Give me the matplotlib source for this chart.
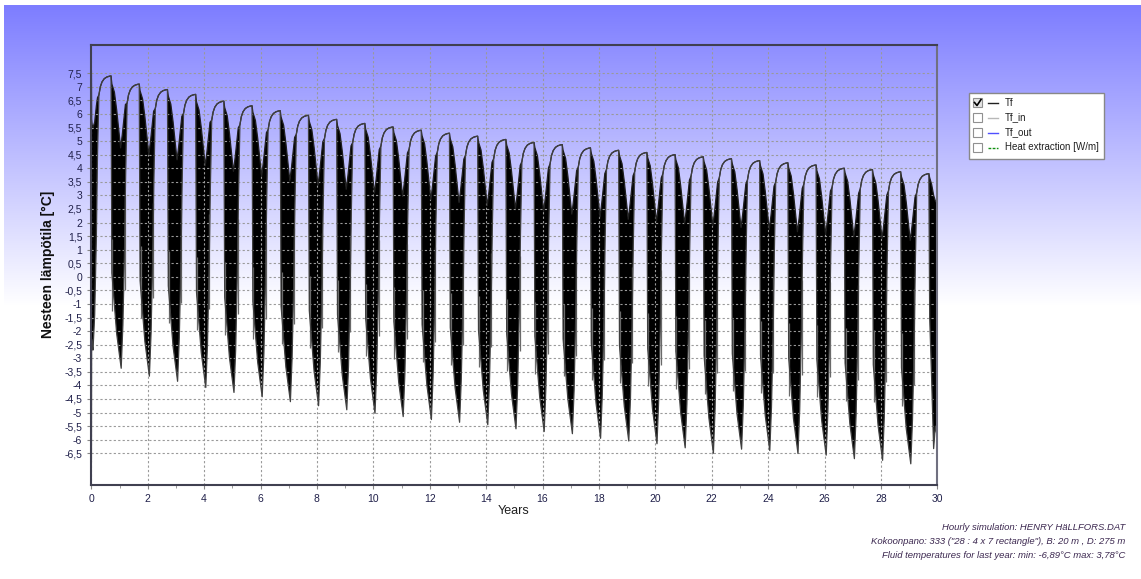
import numpy as np
import matplotlib.pyplot as plt
from matplotlib.ticker import FixedLocator, MultipleLocator, FuncFormatter
from matplotlib.patches import Rectangle

plt.rcParams['font.family'] = ['Liberation Sans', 'DejaVu Sans']

# summer peak of each year 0..29 (around t = k + 0.70)
peaks = [7.40, 7.10, 6.90, 6.72, 6.47, 6.30, 6.12, 5.95, 5.80, 5.65,
         5.52, 5.40, 5.29, 5.18, 5.06, 4.95, 4.87, 4.75, 4.66, 4.58,
         4.50, 4.42, 4.35, 4.28, 4.20, 4.12, 4.00, 3.95, 3.87, 3.80]
# winter minimum of years 1..29 (around t = k + 0.06)
troughs = [-3.37, -3.66, -3.85, -4.08, -4.26, -4.42, -4.60, -4.75, -4.90,
           -5.03, -5.15, -5.26, -5.36, -5.45, -5.60, -5.70, -5.78, -5.95,
           -6.05, -6.15, -6.30, -6.50, -6.35, -6.40, -6.51, -6.57, -6.70,
           -6.76, -6.89]

# shape of one heating season, offsets in years from new year
up_tau = [-0.27, -0.18, -0.10, 0.04, 0.10, 0.16, 0.21]
up_drop = [0.15, 0.45, 1.1, 2.5, 2.0, 1.4, 0.9]
low_tau = [-0.27, -0.18, -0.10, 0.06, 0.12, 0.18, 0.22]
low_frac = [0.33, 0.22, 0.12, 0.0, 0.15, 0.42, 0.68]
line_tau = [0.27, 0.32, 0.38, 0.46, 0.55, 0.64, 0.70]
line_drop = [0.70, 0.40, 0.22, 0.10, 0.04, 0.01, 0.0]
# thin grey spikes poking out below each season (offset, top, bottom as fraction)
spike_tau = [-0.25, 0.185]
spike_top = [0.45, 0.6]
spike_bot = [0.2, 0.27]

# first months and last months of the run
start_t = [0.0, 0.004, 0.012, 0.03, 0.06, 0.12, 0.18, 0.22]
start_up = [7.6, 7.6, 5.8, 5.6, 5.5, 5.7, 6.3, 6.6]
start_low = [-6.82, -6.82, -2.3, -2.5, -2.7, -1.4, 1.5, 4.5]
tail_t = [29.73, 29.80, 29.87, 29.93, 30.0]
tail_up = [3.65, 3.4, 3.0, 2.8, 2.7]
tail_low = [-1.5, -3.8, -6.33, -5.5, -5.9]

t_up, y_up = list(start_t), list(start_up)
t_lo, y_lo = list(start_t), list(start_low)
sx, s0, s1 = [], [], []
for k in range(30):
    P = peaks[k]
    if k > 0:
        ref = (peaks[k - 1] + P) / 2
        M = troughs[k - 1]
        for tau, d in zip(up_tau, up_drop):
            t_up.append(k + tau); y_up.append(ref - d)
        for tau, f in zip(low_tau, low_frac):
            t_lo.append(k + tau); y_lo.append(M + f * (ref - M))
        for tau, a, b in zip(spike_tau, spike_top, spike_bot):
            sx.append(k + tau); s0.append(M + b * (ref - M)); s1.append(M + a * (ref - M))
    for tau, d in zip(line_tau, line_drop):
        t_up.append(k + tau); y_up.append(P - d)
        t_lo.append(k + tau); y_lo.append(P - d)
t_up += tail_t; y_up += tail_up
t_lo += tail_t; y_lo += tail_low

W, H = 1141, 579
fig = plt.figure(figsize=(W / 100, H / 100), dpi=100)

# blue -> white background
bg = fig.add_axes([0, 0, 1, 1], zorder=0)
rows = np.arange(H)
s = np.clip((rows - 5) / 300.0, 0, 1)
top = np.array([125, 125, 255]) / 255.0
img = top[None, :] * (1 - s[:, None]) + s[:, None]
img[:5] = 1
img = np.repeat(img[:, None, :], W, axis=1)
img[:, :4] = 1
bg.imshow(img, extent=[0, W, H, 0], aspect='auto')
bg.set_xlim(0, W); bg.set_ylim(H, 0)
bg.axis('off')

ax = fig.add_axes([91.3 / W, 1 - 485 / H, 846 / W, 440 / H], zorder=1)
ax.set_facecolor('none')
ax.vlines(sx, s0, s1, color='#6a6a6a', lw=0.9)
ax.fill(t_up + t_lo[::-1], y_up + y_lo[::-1], color='black', lw=0)
ax.plot(t_up, y_up, color='#202020', lw=0.9)
ax.plot(t_lo, y_lo, color='#404040', lw=0.9)

ax.set_xlim(0, 30)
ax.set_ylim(-7.67, 8.54)
ax.xaxis.set_major_locator(MultipleLocator(2))
ax.xaxis.set_minor_locator(MultipleLocator(1))
ax.yaxis.set_major_locator(FixedLocator(np.arange(-6.5, 7.51, 0.5)))
ax.yaxis.set_major_formatter(FuncFormatter(lambda v, p: ('%g' % (v + 0.0)).replace('.', ',') if abs(v) > 1e-9 else '0'))
ax.grid(True, color='#9a9a9a', linestyle=(0, (2, 2)), lw=0.8)
ax.tick_params(labelsize=7.5, colors='#20204a', length=3)
ax.tick_params(axis='both', which='both', color='#888888')
ax.tick_params(axis='x', which='minor', length=2)
for sp in ax.spines.values():
    sp.set_color('#404050')
    sp.set_linewidth(1.5)
ax.spines['right'].set_color('#707080')

fig.text(48 / W, 1 - 264 / H, 'Nesteen lämpötila [°C]', rotation=90, ha='center', va='center',
         fontsize=10, fontweight='bold', color='#101010')
fig.text(514 / W, 1 - 511 / H, 'Years', ha='center', va='center', fontsize=9, color='#202020')

info = ['Hourly simulation: HENRY HäLLFORS.DAT',
        'Kokoonpano: 333 ("28 : 4 x 7 rectangle"), B: 20 m , D: 275 m',
        'Fluid temperatures for last year: min: -6,89°C max: 3,78°C']
for i, line in enumerate(info):
    fig.text(1125 / W, 1 - (528 + 14 * i) / H, line, ha='right', va='center',
             fontsize=6.8, style='italic', color='#3c2850')

# legend panel with check boxes
ov = fig.add_axes([0, 0, 1, 1], zorder=2)
ov.set_xlim(0, W); ov.set_ylim(H, 0)
ov.axis('off')
ov.add_patch(Rectangle((969, 93), 135, 66, facecolor='white', edgecolor='#888888', lw=1))
leg_names = ['Tf', 'Tf_in', 'Tf_out', 'Heat extraction [W/m]']
leg_colors = ['#202020', '#b8b8b8', '#5050ff', '#109010']
leg_styles = ['-', '-', '-', '--']
for i, name in enumerate(leg_names):
    yy = 102.5 + 15 * i
    ov.add_patch(Rectangle((973, yy - 4.5), 9, 9, facecolor='#e4e4e4' if i == 0 else 'white',
                           edgecolor='#909090', lw=0.8))
    if i == 0:
        ov.plot([974.5, 977, 981], [yy, yy + 3, yy - 3], color='black', lw=1.2)
    ov.plot([988, 998], [yy, yy], color=leg_colors[i], ls=leg_styles[i], lw=1,
            dashes=(2, 1) if i == 3 else (None, None))
    ov.text(1005, yy, name, fontsize=7, va='center', ha='left', color='#202020')

fig.savefig('out.png', dpi=100)
